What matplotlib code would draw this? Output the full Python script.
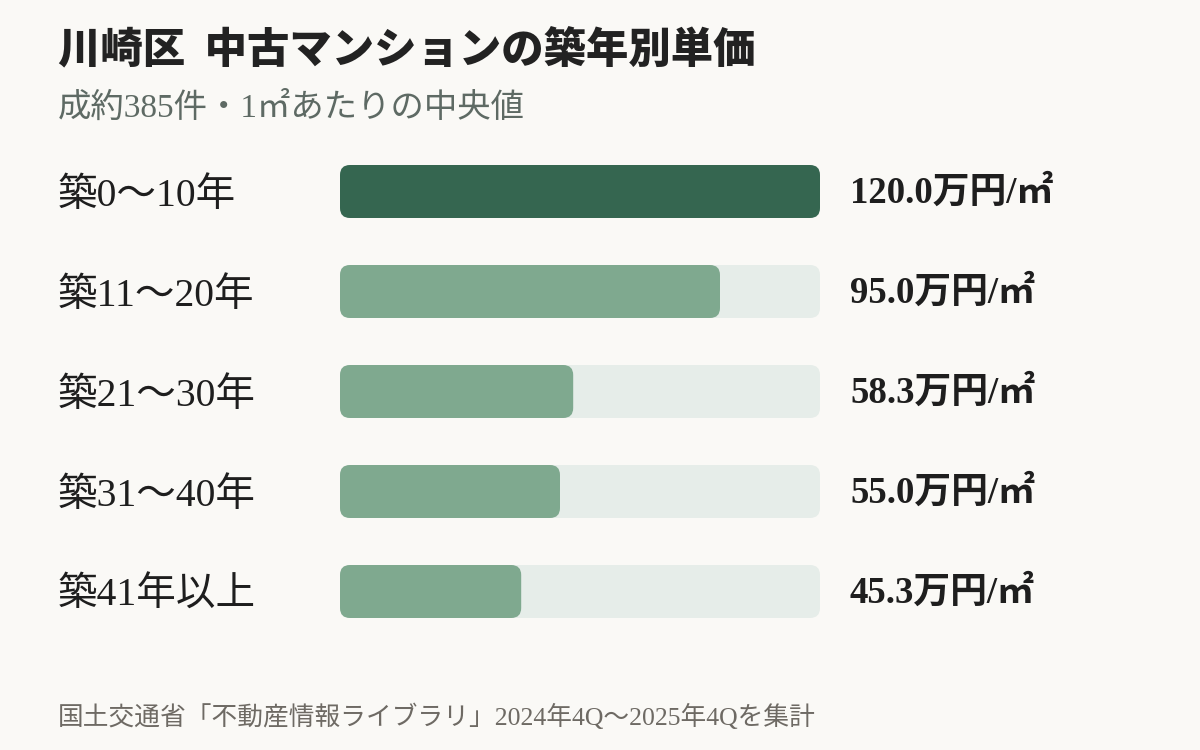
import matplotlib
matplotlib.use("Agg")
import matplotlib.pyplot as plt
from matplotlib.patches import FancyBboxPatch

# data
categories = ["築0～10年", "築11～20年", "築21～30年", "築31～40年", "築41年以上"]
values = [120.0, 95.0, 58.3, 55.0, 45.3]
max_value = 120.0

BG = "#FAF9F6"
DARK = "#356650"
LIGHT = "#7FA98F"
TRACK = "#E6EDE9"

plt.rcParams["font.family"] = ["Liberation Serif", "Noto Sans CJK JP", "DejaVu Sans"]

W, H = 1200, 750
fig = plt.figure(figsize=(12, 7.5), dpi=100, facecolor=BG)

# bar area: x 340..820 px, rows of 100 px starting at 141.5 px from top
ax = fig.add_axes([340 / W, (H - 641.5) / H, 480 / W, 500 / H])
ax.set_facecolor("none")
ax.set_xlim(0, max_value)
ax.set_ylim(4.5, -0.5)
ax.axis("off")

bar_h = 0.53
px_x = 480 / max_value      # px per x unit
px_y = 100.0                # px per y unit
radius = 10 / px_x
aspect = px_x / px_y

for i, (cat, v) in enumerate(zip(categories, values)):
    track = FancyBboxPatch((0, i - bar_h / 2), max_value, bar_h,
                           boxstyle=f"round,pad=0,rounding_size={radius}",
                           mutation_aspect=aspect, facecolor=TRACK,
                           edgecolor="none", clip_on=False)
    ax.add_patch(track)
    bar = FancyBboxPatch((0, i - bar_h / 2), v, bar_h,
                         boxstyle=f"round,pad=0,rounding_size={radius}",
                         mutation_aspect=aspect,
                         facecolor=DARK if i == 0 else LIGHT,
                         edgecolor="none", clip_on=False)
    ax.add_patch(bar)
    ax.text(max_value + 30 / px_x, i + 0.02, f"{v:.1f}万円/㎡", ha="left", va="center",
            fontsize=26.5, fontweight="bold", color="#1e1e1e", clip_on=False)
    ax.text(-282 / px_x, i + 0.05, cat, ha="left", va="center",
            fontsize=28.5, color="#1e1e1e", clip_on=False)

fig.text(58 / W, 1 - 50 / H, "川崎区  中古マンションの築年別単価",
         ha="left", va="center", fontsize=30.5, fontweight="heavy",
         color="#222222", family=["Noto Sans CJK JP", "DejaVu Sans"])
fig.text(58 / W, 1 - 108 / H, "成約385件・1㎡あたりの中央値",
         ha="left", va="center", fontsize=24, color="#5E6A64")
fig.text(58 / W, 1 - 717 / H, "国土交通省「不動産情報ライブラリ」2024年4Q～2025年4Qを集計",
         ha="left", va="center", fontsize=18.5, color="#6E6A64")

fig.savefig("out.png", dpi=100, facecolor=BG)
